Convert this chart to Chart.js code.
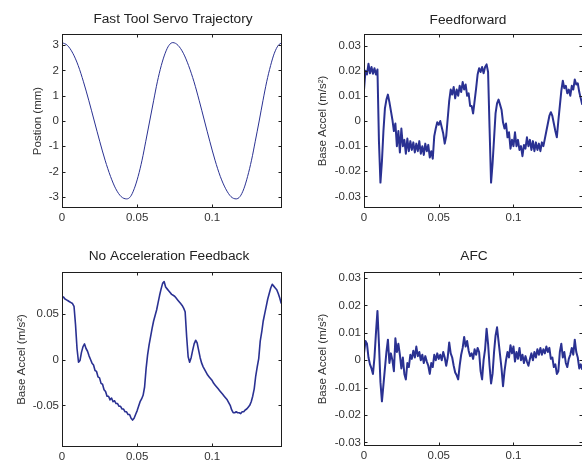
<!DOCTYPE html>
<html><head><meta charset="utf-8">
<script src="https://cdn.jsdelivr.net/npm/chart.js@4.4.1/dist/chart.umd.min.js"></script>
<style>
html,body{margin:0;padding:0;background:#fff;width:582px;height:461px;overflow:hidden;position:relative}
canvas{position:absolute}
</style></head><body>
<canvas id="c1" width="291" height="230" style="left:0;top:0"></canvas>
<canvas id="c2" width="292" height="230" style="left:291px;top:0"></canvas>
<canvas id="c3" width="291" height="231" style="left:0;top:230px"></canvas>
<canvas id="c4" width="292" height="231" style="left:291px;top:230px"></canvas>
<script>
// ---------- data ----------
const timeTicks = [0, 0.05, 0.1];
const posTicks = [-3, -2, -1, 0, 1, 2, 3];
const ffTicks = [-0.03, -0.02, -0.01, 0, 0.01, 0.02, 0.03];
const noAfbTicks = [-0.05, 0, 0.05];
const afcTicks = [-0.03, -0.02, -0.01, 0, 0.01, 0.02, 0.03];
const sampleStep = 0.001; // s, sample period of the acceleration records

const posTime = [0, 0.0036, 0.0072, 0.0108, 0.0143, 0.0179, 0.0215, 0.0251, 0.0287, 0.0323, 0.0358, 0.0394, 0.0430,
  0.0456, 0.0481, 0.0507, 0.0533, 0.0558, 0.0584, 0.0610, 0.0635, 0.0661, 0.0687, 0.0712, 0.0738,
  0.0773, 0.0808, 0.0843, 0.0879, 0.0914, 0.0949, 0.0984, 0.1019, 0.1054, 0.1090, 0.1125, 0.1160,
  0.1185, 0.1211, 0.1236, 0.1262, 0.1287, 0.1313, 0.1338, 0.1363, 0.1389, 0.1414, 0.1440, 0.1465];
const posMm = [3.10, 2.99, 2.68, 2.19, 1.55, 0.80, 0, -0.80, -1.55, -2.19, -2.68, -2.99, -3.08,
  -2.99, -2.68, -2.19, -1.55, -0.80, 0, 0.80, 1.55, 2.19, 2.68, 2.99, 3.10,
  2.99, 2.68, 2.19, 1.55, 0.80, 0, -0.80, -1.55, -2.19, -2.68, -2.99, -3.08,
  -2.99, -2.68, -2.19, -1.55, -0.80, 0, 0.80, 1.55, 2.19, 2.68, 2.99, 3.10];

const ffAccel = [0.0124, 0.0200, 0.0185, 0.0228, 0.0190, 0.0215, 0.0188, 0.0210, 0.0185, 0.0205,
 -0.0080, -0.0245, -0.0160, -0.0040, 0.0050, 0.0085, 0.0105, 0.0075, 0.0040, 0.0005,
 -0.0040, -0.0010, -0.0100, -0.0040, -0.0125, -0.0030, -0.0100, -0.0075, -0.0130, -0.0070,
 -0.0120, -0.0080, -0.0115, -0.0085, -0.0125, -0.0090, -0.0120, -0.0080, -0.0130, -0.0100,
 -0.0135, -0.0090, -0.0120, -0.0095, -0.0145, -0.0120, -0.0150, -0.0060, -0.0030, -0.0005,
 -0.0015, 0.0000, -0.0025, -0.0050, -0.0090, -0.0060, 0.0010, 0.0080, 0.0125, 0.0105,
 0.0135, 0.0090, 0.0125, 0.0100, 0.0140, 0.0115, 0.0155, 0.0125, 0.0145, 0.0100,
 0.0110, 0.0060, 0.0060, 0.0030, 0.0080, 0.0130, 0.0185, 0.0210, 0.0195, 0.0215,
 0.0190, 0.0215, 0.0225, 0.0195, -0.0030, -0.0245, -0.0170, -0.0070, 0.0030, 0.0070,
 0.0085, 0.0065, 0.0045, -0.0005, -0.0030, -0.0010, -0.0065, -0.0045, -0.0110, -0.0075,
 -0.0100, -0.0045, -0.0100, -0.0075, -0.0115, -0.0100, -0.0140, -0.0095, -0.0110, -0.0065,
 -0.0100, -0.0075, -0.0115, -0.0080, -0.0120, -0.0085, -0.0115, -0.0090, -0.0120, -0.0085,
 -0.0100, -0.0070, -0.0040, -0.0010, 0.0020, 0.0035, 0.0020, -0.0010, -0.0040, -0.0065,
 0.0000, 0.0060, 0.0120, 0.0160, 0.0130, 0.0140, 0.0110, 0.0125, 0.0100, 0.0140,
 0.0125, 0.0165, 0.0145, 0.0150, 0.0115, 0.0090, 0.0065];

const noAfbAccel = [0.069, 0.068, 0.066, 0.065, 0.064, 0.063, 0.062, 0.061, 0.058, 0.038,
 0.012, -0.003, -0.001, 0.008, 0.014, 0.017, 0.012, 0.009, 0.004, 0.000,
 -0.004, -0.006, -0.012, -0.013, -0.019, -0.020, -0.026, -0.027, -0.033, -0.035,
 -0.040, -0.040, -0.044, -0.042, -0.046, -0.045, -0.048, -0.048, -0.051, -0.051,
 -0.054, -0.054, -0.057, -0.057, -0.060, -0.060, -0.064, -0.066, -0.064, -0.060,
 -0.056, -0.051, -0.046, -0.043, -0.039, -0.030, -0.010, 0.005, 0.016, 0.025,
 0.034, 0.042, 0.048, 0.054, 0.062, 0.070, 0.077, 0.083, 0.085, 0.079,
 0.077, 0.075, 0.073, 0.071, 0.070, 0.069, 0.067, 0.065, 0.063, 0.061,
 0.059, 0.056, 0.052, 0.025, 0.003, -0.003, 0.002, 0.010, 0.017, 0.021,
 0.018, 0.010, 0.002, -0.004, -0.008, -0.011, -0.014, -0.017, -0.019, -0.021,
 -0.023, -0.026, -0.028, -0.030, -0.032, -0.034, -0.036, -0.038, -0.040, -0.042,
 -0.044, -0.047, -0.050, -0.055, -0.058, -0.058, -0.057, -0.058, -0.058, -0.059,
 -0.057, -0.057, -0.055, -0.054, -0.052, -0.050, -0.046, -0.040, -0.032, -0.018,
 -0.008, 0.001, 0.020, 0.030, 0.042, 0.050, 0.058, 0.066, 0.072, 0.078,
 0.082, 0.080, 0.078, 0.076, 0.072, 0.067, 0.061];

const afcAccel = [0.0025, 0.0070, 0.0060, 0.0010, -0.0015, -0.0030, -0.0050, 0.0010, 0.0100, 0.0180,
 0.0060, -0.0080, -0.0150, -0.0090, -0.0030, 0.0030, 0.0075, -0.0010, 0.0025, 0.0000,
 -0.0040, 0.0080, 0.0030, 0.0060, 0.0020, -0.0030, 0.0010, -0.0050, -0.0070, -0.0010,
 -0.0025, 0.0020, 0.0005, 0.0035, 0.0010, 0.0050, 0.0015, 0.0030, 0.0000, 0.0020,
 -0.0010, 0.0015, -0.0005, -0.0020, -0.0050, -0.0010, -0.0025, 0.0020, 0.0000, 0.0025,
 0.0005, 0.0020, 0.0000, 0.0030, 0.0010, -0.0020, 0.0010, 0.0065, 0.0025, 0.0010,
 -0.0020, -0.0045, -0.0055, -0.0070, -0.0020, 0.0020, 0.0045, 0.0085, 0.0050, 0.0070,
 0.0035, 0.0015, 0.0025, 0.0005, 0.0040, 0.0020, 0.0045, 0.0030, -0.0040, -0.0070,
 0.0000, 0.0040, 0.0115, 0.0060, -0.0020, -0.0085, -0.0050, 0.0030, 0.0090, 0.0120,
 0.0070, 0.0020, -0.0030, -0.0095, -0.0040, 0.0000, 0.0030, 0.0010, 0.0055, 0.0025,
 0.0050, -0.0005, 0.0030, 0.0005, 0.0045, 0.0000, 0.0020, -0.0010, 0.0015, -0.0005,
 -0.0020, 0.0005, 0.0025, 0.0000, 0.0030, 0.0010, 0.0040, 0.0020, 0.0045, 0.0020,
 0.0040, 0.0025, 0.0050, 0.0030, 0.0045, 0.0005, 0.0010, -0.0025, -0.0015, -0.0050,
 -0.0040, 0.0030, 0.0060, 0.0010, 0.0030, -0.0010, -0.0025, 0.0005, 0.0020, 0.0045,
 0.0020, 0.0075, 0.0030, 0.0010, -0.0030, -0.0015, -0.0035];

// ---------- style ----------
const lineColor = '#2a3192';
const textColor = '#333333';
const frameColor = '#1e1e1e';
const fontFamily = '"Liberation Sans", Arial, Helvetica, sans-serif';
const tMax = 0.1465;

Chart.defaults.font.family = fontFamily;
Chart.defaults.font.size = 11.5;
Chart.defaults.color = textColor;

const framePlugin = {
  id: 'matlabFrame',
  afterDraw(chart, args, opts) {
    const {ctx, chartArea: a} = chart;
    const xs = chart.scales.x, ys = chart.scales.y;
    ctx.save();
    ctx.strokeStyle = frameColor;
    ctx.lineWidth = 1;
    const L = a.left + 0.5, R = a.right - 0.5, T = a.top + 0.5, B = a.bottom - 0.5;
    ctx.strokeRect(L, T, R - L, B - T);
    const tl = 3;
    ctx.beginPath();
    xs.ticks.forEach(t => {
      const p = Math.round(xs.getPixelForValue(t.value)) + 0.5;
      ctx.moveTo(p, B); ctx.lineTo(p, B - tl);
      ctx.moveTo(p, T); ctx.lineTo(p, T + tl);
    });
    ys.ticks.forEach(t => {
      const p = Math.round(ys.getPixelForValue(t.value)) + 0.5;
      ctx.moveTo(L, p); ctx.lineTo(L + tl, p);
      ctx.moveTo(R, p); ctx.lineTo(R - tl, p);
    });
    ctx.stroke();
    if (opts.text) {
      ctx.fillStyle = '#222222';
      ctx.font = '13.7px ' + fontFamily;
      ctx.textAlign = 'center';
      ctx.textBaseline = 'middle';
      ctx.fillText(opts.text, opts.x, opts.y);
    }
    ctx.restore();
  }
};

function makePanel(id, cfg) {
  const pts = cfg.t ? cfg.t.map((t, i) => ({x: t, y: cfg.y[i]}))
                    : cfg.y.map((v, i) => ({x: i * sampleStep, y: v}));
  new Chart(document.getElementById(id), {
    type: 'line',
    data: {datasets: [{
      data: pts, borderColor: lineColor, borderWidth: cfg.lw, pointRadius: 0, fill: false,
      tension: 0, cubicInterpolationMode: cfg.smooth ? 'monotone' : 'default',
      borderJoinStyle: 'round'
    }]},
    options: {
      responsive: false, animation: false, devicePixelRatio: 1, events: [],
      layout: {padding: {left: 0, top: cfg.top, right: cfg.right, bottom: 0}},
      plugins: {
        legend: {display: false}, tooltip: {enabled: false},
        matlabFrame: {text: cfg.title, x: cfg.titleX, y: cfg.titleY}
      },
      scales: {
        x: {
          type: 'linear', min: 0, max: tMax,
          afterFit: s => { s.height = cfg.xh; },
          afterBuildTicks: s => { s.ticks = timeTicks.map(v => ({value: v})); },
          grid: {display: false, drawTicks: false}, border: {display: false},
          ticks: {padding: 3, maxRotation: 0, autoSkip: false, color: textColor, callback: v => String(v)}
        },
        y: {
          type: 'linear', min: cfg.yMin, max: cfg.yMax,
          afterFit: s => { s.width = cfg.yw; },
          afterBuildTicks: s => { s.ticks = cfg.ticks.map(v => ({value: v})); },
          grid: {display: false, drawTicks: false}, border: {display: false},
          ticks: {padding: 3, autoSkip: false, color: textColor, callback: v => String(v)},
          title: {display: true, text: cfg.ylabel, color: textColor, font: {size: 11.5}, padding: {top: cfg.ytp, bottom: 0}}
        }
      }
    },
    plugins: [framePlugin]
  });
}

makePanel('c1', {t: posTime, y: posMm, smooth: true, lw: 1, top: 34, right: 9, xh: 22, yw: 62,
  yMin: -3.44, yMax: 3.44, ticks: posTicks, ylabel: 'Postion (mm)', ytp: 30.8,
  title: 'Fast Tool Servo Trajectory', titleX: 173, titleY: 19});
makePanel('c2', {y: ffAccel, lw: 2, top: 34, right: 0, xh: 22, yw: 73,
  yMin: -0.0346, yMax: 0.0346, ticks: ffTicks, ylabel: 'Base Accel (m/s\u00b2)', ytp: 24.8,
  title: 'Feedforward', titleX: 177, titleY: 20});
makePanel('c3', {y: noAfbAccel, lw: 1.6, top: 42, right: 9, xh: 14, yw: 62,
  yMin: -0.0954, yMax: 0.0954, ticks: noAfbTicks, ylabel: 'Base Accel (m/s\u00b2)', ytp: 14.8,
  title: 'No Acceleration Feedback', titleX: 169, titleY: 26});
makePanel('c4', {y: afcAccel, lw: 2, top: 42, right: 0, xh: 15, yw: 73,
  yMin: -0.0313, yMax: 0.0322, ticks: afcTicks, ylabel: 'Base Accel (m/s\u00b2)', ytp: 24.8,
  title: 'AFC', titleX: 183, titleY: 26});
</script></body></html>
